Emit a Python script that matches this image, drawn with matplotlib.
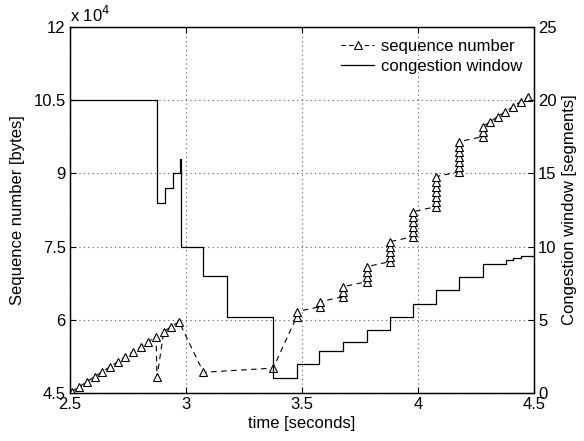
import matplotlib

matplotlib.use("Agg")
import matplotlib.pyplot as plt
from matplotlib.lines import Line2D

OUTPUT_PNG = "out.png"

# sequence number samples, in units of 1e4 bytes
seq_time = [
    2.507, 2.540, 2.573, 2.606, 2.639, 2.673, 2.706, 2.739, 2.772, 2.805,
    2.838, 2.871, 2.875, 2.904, 2.937, 2.970, 3.075, 3.376,
    3.477, 3.477,
    3.578, 3.578,
    3.678, 3.678, 3.678,
    3.779, 3.779, 3.779, 3.779,
    3.879, 3.879, 3.879, 3.879, 3.879,
    3.980, 3.980, 3.980, 3.980, 3.980, 3.980,
    4.078, 4.078, 4.078, 4.078, 4.078, 4.078, 4.078,
    4.178, 4.178, 4.178, 4.178, 4.178, 4.178, 4.178,
    4.279, 4.279, 4.279,
    4.312, 4.344, 4.377, 4.410, 4.443, 4.476,
]
seq_value = [
    4.527, 4.630, 4.732, 4.835, 4.937, 5.040, 5.142, 5.245, 5.347, 5.450,
    5.552, 5.655, 4.820, 5.757, 5.860, 5.962, 4.924, 5.010,
    6.064, 6.166,
    6.269, 6.371,
    6.474, 6.576, 6.679,
    6.781, 6.884, 6.986, 7.089,
    7.191, 7.294, 7.396, 7.499, 7.601,
    7.704, 7.806, 7.909, 8.011, 8.114, 8.216,
    8.319, 8.421, 8.524, 8.626, 8.729, 8.831, 8.934,
    9.036, 9.139, 9.241, 9.344, 9.446, 9.549, 9.651,
    9.754, 9.856, 9.959,
    10.061, 10.164, 10.266, 10.369, 10.471, 10.574,
]

# congestion window (segments), value holds until the next time
cwnd_time = [
    2.5, 2.874, 2.908, 2.943, 2.976, 2.978, 3.075, 3.175, 3.376, 3.477,
    3.575, 3.678, 3.779, 3.879, 3.977, 4.078, 4.178, 4.279, 4.379, 4.41,
    4.445, 4.5,
]
cwnd_value = [
    20, 13, 14, 15, 16, 10, 8, 5.17, 1, 2,
    2.9, 3.5, 4.3, 5.17, 6.08, 7.04, 7.95, 8.79, 9.08, 9.22,
    9.38, 9.45,
]

x_ticks = [2.5, 3, 3.5, 4, 4.5]
x_tick_labels = ["2.5", "3", "3.5", "4", "4.5"]
seq_ticks = [4.5, 6, 7.5, 9, 10.5, 12]
seq_tick_labels = ["4.5", "6", "7.5", "9", "10.5", "12"]
cwnd_ticks = [0, 5, 10, 15, 20, 25]

plt.rcParams["font.family"] = ["Liberation Sans", "DejaVu Sans"]
plt.rcParams["font.size"] = 12


def draw():
    fig = plt.figure(figsize=(5.84, 4.41), dpi=100)
    ax = fig.add_axes([70 / 584, 48 / 441, 464 / 584, 366 / 441])
    ax2 = ax.twinx()

    ax.plot(seq_time, seq_value, color="black", linestyle=(0, (5, 4)),
            linewidth=0.8, marker="^", markersize=6.2, markerfacecolor="white",
            markeredgecolor="black", markeredgewidth=0.8, zorder=3)
    ax2.step(cwnd_time, cwnd_value, where="post", color="black", linewidth=0.9)

    ax.set_xlim(2.5, 4.5)
    ax.set_ylim(4.5, 12)
    ax2.set_ylim(0, 25)
    ax.set_xticks(x_ticks, labels=x_tick_labels)
    ax.set_yticks(seq_ticks, labels=seq_tick_labels)
    ax2.set_yticks(cwnd_ticks)

    ax.grid(True, linestyle=(0, (1, 3)), color="0.35", linewidth=0.8)
    ax.tick_params(direction="in", length=4, top=True, pad=3)
    ax2.tick_params(direction="in", length=4, pad=3)
    for axis in (ax, ax2):
        for spine in axis.spines.values():
            spine.set_linewidth(0.9)

    ax.set_xlabel("time [seconds]", labelpad=3)
    ax.set_ylabel("Sequence number [bytes]", labelpad=6)
    ax2.set_ylabel("Congestion window [segments]", labelpad=4)
    ax.text(0.0, 1.005, r"x 10$^{4}$", transform=ax.transAxes,
            ha="left", va="bottom")

    handles = [
        Line2D([], [], color="black", linestyle=(0, (4, 3)), linewidth=0.8,
               marker="^", markersize=6, markerfacecolor="white",
               markeredgecolor="black", markeredgewidth=0.8),
        Line2D([], [], color="black", linewidth=0.9),
    ]
    ax2.legend(handles, ["sequence number", "congestion window"],
               loc="upper right", frameon=False, handlelength=2.0,
               handletextpad=0.4, labelspacing=0.3, borderaxespad=0.3)

    fig.savefig(OUTPUT_PNG, dpi=100)


def main():
    draw()


if __name__ == "__main__":
    main()
